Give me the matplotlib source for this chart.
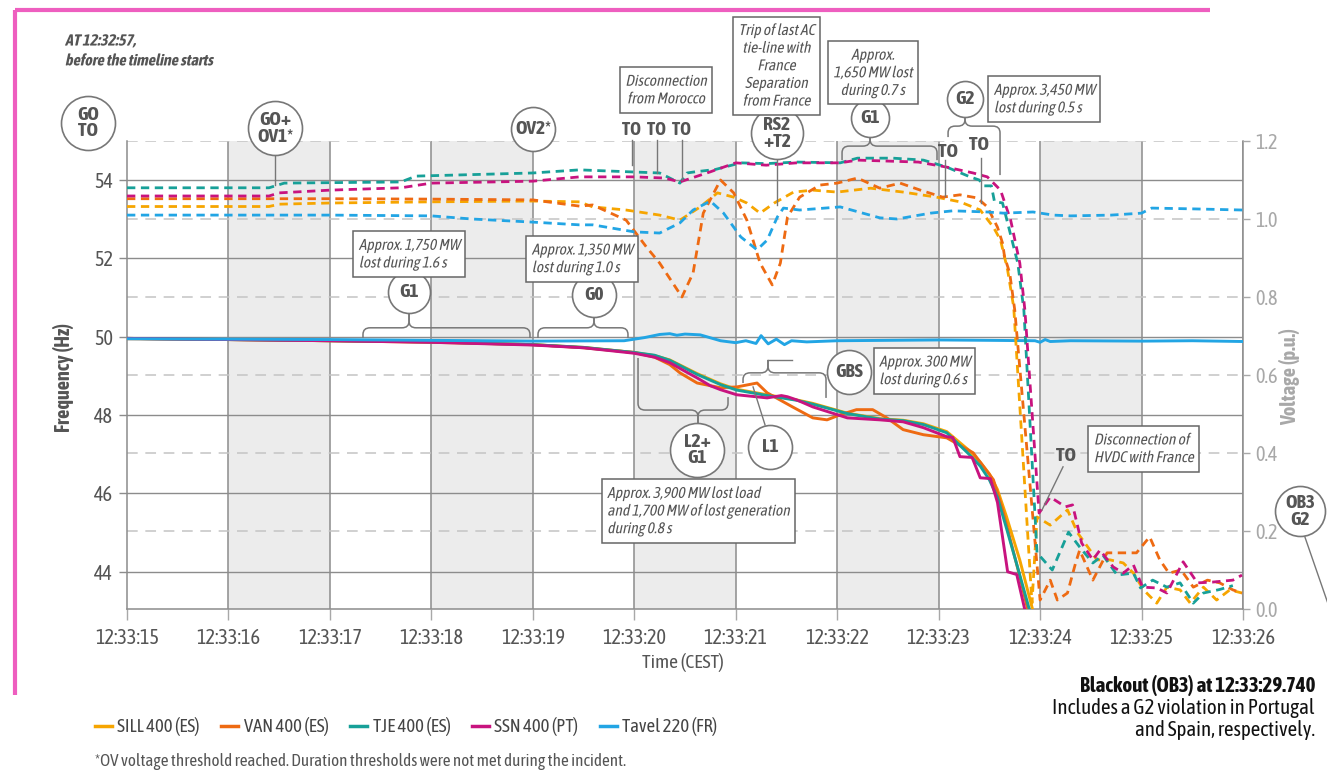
import numpy as np
import matplotlib
matplotlib.use("Agg")
import matplotlib.pyplot as plt
import matplotlib.transforms as mtransforms
import matplotlib.patheffects as pe
from matplotlib import font_manager
from matplotlib.lines import Line2D
from matplotlib.path import Path
from matplotlib.patches import PathPatch

# prefer a narrow / condensed sans if one is installed, ideally one with a bold face
_entries = font_manager.fontManager.ttflist


def _weight(entry):
    w = entry.weight
    if isinstance(w, str):
        w = font_manager.weight_dict.get(w, 400)
    return int(w)


_narrow = sorted({f.name for f in _entries
                  if "narrow" in f.name.lower() or "condensed" in f.name.lower()})
_bold_names = {f.name for f in _entries if _weight(f) >= 600}
_narrow_bold = [n for n in _narrow if n in _bold_names]
if _narrow_bold:
    BASE, FAKE_BOLD = _narrow_bold[0], False
elif _narrow:
    BASE, FAKE_BOLD = _narrow[0], True
else:
    BASE, FAKE_BOLD = "Roboto", False
plt.rcParams["font.family"] = [BASE, "DejaVu Sans"]
K = 1.12 if _narrow else 1.0


class Slant(pe.AbstractPathEffect):
    """Shear glyph outlines around the text origin to give a sloped face."""

    def __init__(self, angle=12, stroke=0.0):
        super().__init__()
        self._angle = np.radians(angle)
        self._stroke = stroke

    def draw_path(self, renderer, gc, tpath, affine, rgbFace=None):
        x0, y0 = affine.transform((0, 0))
        shear = (mtransforms.Affine2D().translate(-x0, -y0)
                 .skew(self._angle, 0).translate(x0, y0))
        if self._stroke > 0:
            gc0 = renderer.new_gc()
            gc0.copy_properties(gc)
            gc0.set_linewidth(self._stroke)
            gc0.set_foreground(rgbFace)
            renderer.draw_path(gc0, tpath, affine + shear, rgbFace)
            gc0.restore()
        else:
            renderer.draw_path(gc, tpath, affine + shear, rgbFace)


def heavy(color, stroke=0.9):
    """Keyword arguments that render text in a bold weight."""
    if FAKE_BOLD:
        return dict(color=color,
                    path_effects=[pe.withStroke(linewidth=stroke, foreground=color)])
    return dict(color=color, fontweight="bold")


def sloped(color, bold=False):
    """Keyword arguments that render text sloped."""
    kw = dict(color=color)
    if bold and not FAKE_BOLD:
        kw["fontweight"] = "bold"
    kw["path_effects"] = [Slant(12, 0.7 if (bold and FAKE_BOLD) else 0.0)]
    return kw


# ---------------------------------------------------------------- data
# time axis: seconds after 12:33:15 (CEST)
tick_labels = ["12:33:15", "12:33:16", "12:33:17", "12:33:18", "12:33:19", "12:33:20",
               "12:33:21", "12:33:22", "12:33:23", "12:33:24", "12:33:25", "12:33:26"]
shaded_seconds = [1, 3, 5, 7, 9]
freq_ticks = [44, 46, 48, 50, 52, 54]
volt_ticks = [0.0, 0.2, 0.4, 0.6, 0.8, 1.0, 1.2]

series_names = ["SILL 400 (ES)", "VAN 400 (ES)", "TJE 400 (ES)", "SSN 400 (PT)", "Tavel 220 (FR)"]
series_colors = ["#F6A500", "#EE6A12", "#17A098", "#C8137F", "#22A5E4"]

# frequency (Hz)
sill_ft = [0, 1, 2, 3, 4, 4.5, 5.0, 5.2, 5.35, 5.62, 5.85, 6.01, 6.31, 6.6, 6.76, 7.1, 7.42,
           7.65, 7.85, 8.08, 8.3, 8.41, 8.5, 8.58, 8.67, 8.8, 8.95]
sill_f = [49.96, 49.93, 49.90, 49.87, 49.80, 49.73, 49.60, 49.52, 49.41, 49.06, 48.80, 48.66,
          48.52, 48.39, 48.30, 48.05, 47.91, 47.87, 47.78, 47.58, 47.10, 46.80, 46.50, 46.10,
          45.40, 44.30, 42.80]

van_ft = [0, 1, 2, 3, 4, 4.5, 5.0, 5.2, 5.35, 5.45, 5.62, 5.85, 6.01, 6.21, 6.31, 6.56, 6.76,
          6.9, 7.03, 7.19, 7.35, 7.49, 7.65, 7.85, 8.08, 8.34, 8.54, 8.63, 8.80, 8.90]
van_f = [49.95, 49.93, 49.90, 49.86, 49.80, 49.72, 49.60, 49.48, 49.29, 49.08, 48.82, 48.70,
         48.72, 48.82, 48.57, 48.21, 47.93, 47.88, 48.01, 48.14, 48.14, 47.93, 47.63, 47.50,
         47.42, 47.04, 46.35, 45.59, 43.88, 42.80]

tje_ft = [0, 1, 2, 3, 4, 4.5, 5.0, 5.2, 5.35, 5.62, 5.85, 6.01, 6.31, 6.6, 6.76, 7.1, 7.42,
          7.65, 7.85, 8.08, 8.3, 8.41, 8.5, 8.58, 8.67, 8.78, 8.92]
tje_f = [49.96, 49.93, 49.90, 49.87, 49.80, 49.73, 49.60, 49.53, 49.40, 49.04, 48.78, 48.64,
         48.50, 48.38, 48.28, 48.04, 47.90, 47.86, 47.76, 47.55, 47.00, 46.70, 46.35, 45.90,
         45.10, 44.10, 42.80]

ssn_ft = [0, 1, 2, 3, 4, 4.5, 5.0, 5.2, 5.35, 5.5, 5.62, 5.75, 5.85, 6.01, 6.2, 6.31, 6.45,
          6.51, 6.6, 6.76, 7.1, 7.42, 7.65, 7.85, 8.08, 8.14, 8.21, 8.33, 8.41, 8.51, 8.58,
          8.68, 8.77, 8.87]
ssn_f = [49.96, 49.93, 49.90, 49.86, 49.79, 49.72, 49.58, 49.48, 49.34, 49.12, 48.95, 48.75,
         48.65, 48.52, 48.47, 48.44, 48.50, 48.47, 48.39, 48.21, 47.93, 47.88, 47.83, 47.68,
         47.45, 47.43, 46.94, 46.92, 46.40, 46.38, 45.77, 44.00, 43.93, 42.80]

tavel_ft = [0, 2, 4, 4.9, 5.1, 5.25, 5.35, 5.42, 5.5, 5.65, 5.85, 6.0, 6.1, 6.2, 6.25, 6.32,
            6.4, 6.48, 6.55, 6.7, 7.0, 7.5, 8.0, 8.5, 8.95, 9.0, 9.05, 9.1, 9.3, 10.0, 10.5, 11.0]
tavel_f = [49.95, 49.93, 49.89, 49.90, 49.98, 50.06, 50.08, 50.04, 50.07, 50.05, 49.90, 49.85,
           49.90, 49.83, 50.03, 49.82, 49.94, 49.80, 49.90, 49.87, 49.90, 49.91, 49.92, 49.91,
           49.90, 49.86, 49.93, 49.88, 49.90, 49.89, 49.90, 49.88]

# voltage (p.u.)
sill_vt = [0, 1.4, 1.5, 2.0, 3.0, 4.0, 4.46, 4.59, 4.92, 5.25, 5.45, 5.65, 5.82, 5.98, 6.11,
           6.24, 6.38, 6.57, 6.76, 7.0, 7.33, 7.65, 7.98, 8.21, 8.41, 8.54, 8.61, 8.68, 8.74,
           8.92, 8.97, 9.10, 9.27, 9.37, 9.47, 9.56, 9.69, 9.82, 9.92, 10.02, 10.15, 10.25,
           10.38, 10.48, 10.61, 10.74, 10.87, 10.99]
sill_v = [1.032, 1.032, 1.038, 1.041, 1.044, 1.046, 1.044, 1.031, 1.023, 1.010, 0.997, 1.031,
          1.067, 1.056, 1.041, 1.015, 1.041, 1.069, 1.074, 1.069, 1.079, 1.069, 1.056, 1.044,
          1.023, 0.979, 0.946, 0.869, 0.774, 0.015, 0.236, 0.215, 0.254, 0.195, 0.159, 0.126,
          0.126, 0.118, 0.092, 0.049, 0.015, 0.056, 0.049, 0.015, 0.056, 0.023, 0.049, 0.041]

van_vt = [0, 2, 3, 4.0, 4.46, 4.59, 4.92, 5.12, 5.25, 5.47, 5.58, 5.68, 5.85, 5.98, 6.11,
          6.24, 6.36, 6.44, 6.51, 6.63, 6.83, 7.0, 7.2, 7.42, 7.62, 7.82, 8.04, 8.21, 8.38,
          8.48, 8.58, 8.63, 8.65, 8.70, 8.75, 9.0, 9.10, 9.17, 9.27, 9.35, 9.39, 9.52, 9.66,
          9.85, 9.95, 10.08, 10.18, 10.27, 10.39, 10.51, 10.65, 10.77, 10.90, 10.99]
van_v = [1.052, 1.052, 1.051, 1.049, 1.033, 1.036, 0.997, 0.928, 0.887, 0.800, 0.862, 1.015,
         1.100, 1.067, 0.997, 0.887, 0.831, 0.887, 1.005, 1.056, 1.087, 1.092, 1.105, 1.079,
         1.092, 1.074, 1.056, 1.062, 1.054, 1.031, 0.979, 0.938, 0.903, 0.862, 0.767, 0.023,
         0.074, 0.023, 0.041, 0.118, 0.151, 0.074, 0.144, 0.144, 0.144, 0.185, 0.126, 0.092,
         0.100, 0.056, 0.074, 0.067, 0.049, 0.041]

tje_vt = [0, 1.4, 1.55, 2.7, 2.85, 4.0, 4.46, 4.95, 5.25, 5.45, 5.52, 5.6, 5.8, 6.05, 6.3,
          6.6, 7.03, 7.2, 7.55, 7.85, 8.08, 8.31, 8.40, 8.45, 8.52, 8.55, 8.63, 8.68, 8.78,
          8.84, 8.97, 9.12, 9.28, 9.39, 9.52, 9.62, 9.76, 9.92, 9.99, 10.11, 10.25, 10.38,
          10.51, 10.61, 10.77, 10.90]
tje_v = [1.080, 1.080, 1.092, 1.095, 1.110, 1.118, 1.126, 1.121, 1.118, 1.092, 1.118, 1.121,
         1.127, 1.144, 1.142, 1.146, 1.144, 1.156, 1.156, 1.151, 1.133, 1.108, 1.100, 1.085,
         1.085, 1.045, 1.041, 0.990, 0.887, 0.767, 0.144, 0.100, 0.197, 0.159, 0.118, 0.138,
         0.087, 0.092, 0.054, 0.074, 0.056, 0.067, 0.015, 0.041, 0.050, 0.060]

ssn_vt = [0, 1.4, 1.5, 2.0, 2.7, 3.0, 4.0, 4.46, 5.0, 5.3, 5.45, 5.75, 6.0, 6.3, 6.6, 7.03,
          7.2, 7.8, 8.08, 8.34, 8.48, 8.61, 8.71, 8.80, 8.85, 8.99, 9.10, 9.25, 9.32, 9.41,
          9.52, 9.59, 9.72, 9.82, 9.92, 10.01, 10.15, 10.25, 10.41, 10.55, 10.70, 10.90, 10.99]
ssn_v = [1.059, 1.059, 1.067, 1.074, 1.080, 1.092, 1.097, 1.108, 1.108, 1.105, 1.095, 1.121,
         1.144, 1.138, 1.144, 1.144, 1.151, 1.146, 1.133, 1.118, 1.108, 1.074, 0.997, 0.887,
         0.767, 0.246, 0.287, 0.262, 0.267, 0.169, 0.126, 0.151, 0.108, 0.092, 0.113, 0.056,
         0.054, 0.041, 0.121, 0.067, 0.069, 0.074, 0.087]

tavel_vt = [0, 2, 3, 3.4, 4.0, 4.46, 4.59, 5.0, 5.25, 5.45, 5.58, 5.75, 5.88, 6.05, 6.21,
            6.31, 6.41, 6.47, 6.63, 7.03, 7.42, 7.59, 7.92, 8.14, 8.48, 8.64, 8.93, 9.13,
            9.30, 9.7, 10.0, 10.1, 10.5, 11.0]
tavel_v = [1.010, 1.010, 1.008, 1.000, 0.992, 0.985, 0.985, 0.967, 0.964, 0.990, 1.023, 1.046,
           1.015, 0.954, 0.921, 0.946, 1.005, 1.028, 1.023, 1.031, 1.003, 1.000, 1.015, 1.021,
           1.018, 1.015, 1.018, 1.010, 1.008, 1.010, 1.015, 1.028, 1.026, 1.023]

freq_series = [(sill_ft, sill_f), (van_ft, van_f), (tje_ft, tje_f), (ssn_ft, ssn_f),
               (tavel_ft, tavel_f)]
volt_series = [(sill_vt, sill_v), (van_vt, van_v), (tje_vt, tje_v), (ssn_vt, ssn_v),
               (tavel_vt, tavel_v)]

# text sizes
FS_TICK = 13 * K
FS_CIRC = 12.5 * K
FS_NOTE = 10 * K
FS_LAB = 13 * K

# ---------------------------------------------------------------- figure
W, H = 1327, 772
fig = plt.figure(figsize=(W / 100, H / 100), dpi=100)
ax = fig.add_axes([127 / W, 1 - 609 / H, (1243 - 127) / W, (609 - 141) / H])
ax2 = ax.twinx()
ax.set_xlim(0, 11)
ax.set_ylim(43.05, 55.0)
ax2.set_ylim(0, 1.2)
ax2.patch.set_visible(False)

DARK = "#555555"
GRID = "#8c8c8c"
LIGHT = "#a8a8a8"

# shaded seconds
for s in shaded_seconds:
    ax.axvspan(s, s + 1, color="#ececec", lw=0, zorder=0)
# vertical second lines
for s in range(1, 12):
    ax.axvline(s, color=GRID, lw=1.1, zorder=1)
# solid frequency grid
for f in freq_ticks:
    ax.axhline(f, color=GRID, lw=1.0, zorder=1)
# dashed voltage grid
vtrans = mtransforms.blended_transform_factory(ax.transAxes, ax2.transData)
for v in volt_ticks[1:]:
    ax.add_line(Line2D([0, 1], [v, v], transform=vtrans, color="#c4c4c4", lw=1.1,
                       dashes=(7, 5), zorder=1))

# frequency traces
for (tt, ff), c in zip(freq_series, series_colors):
    ax.plot(tt, ff, color=c, lw=2.1, zorder=3, solid_joinstyle="round")
# voltage traces
for (tt, vv), c in zip(volt_series, series_colors):
    ax2.plot(tt, vv, color=c, lw=2.0, dashes=(3, 2), zorder=3)

# axes cosmetics
ax.spines["top"].set_visible(False)
for sp in ["left", "bottom", "right"]:
    ax.spines[sp].set_color(GRID)
    ax.spines[sp].set_linewidth(1.1)
for sp in ax2.spines.values():
    sp.set_visible(False)

ax.set_xticks(range(12))
ax.set_xticklabels(tick_labels)
ax.tick_params(axis="x", length=8, width=1, color=LIGHT, pad=6, labelsize=FS_TICK,
               labelcolor=DARK)
ax.set_yticks(freq_ticks)
ax.set_yticklabels([str(f) for f in freq_ticks])
ax.tick_params(axis="y", length=6, width=1, color=GRID, pad=4, labelsize=FS_TICK,
               labelcolor=DARK)
ax2.set_yticks(volt_ticks)
ax2.set_yticklabels([f"{v:.1f}" for v in volt_ticks])
ax2.tick_params(axis="y", length=5, width=1, color=LIGHT, pad=4, labelsize=FS_TICK,
                labelcolor=LIGHT)

fig.text(63 / W, 1 - 377 / H, "Frequency (Hz)", rotation=90, ha="center", va="center",
         fontsize=FS_LAB, **heavy(DARK))
fig.text(1290 / W, 1 - 377 / H, "Voltage (p.u.)", rotation=90, ha="center", va="center",
         fontsize=FS_LAB, **heavy(LIGHT))
fig.text(683 / W, 1 - 662 / H, "Time (CEST)", ha="center", va="center", fontsize=12.5 * K,
         color=DARK)

# ---------------------------------------------------------------- annotations
ANN = "#777777"
T = ax.transData


def circle_label(t, f, text, r_px, fs=FS_CIRC):
    ax2.plot([t], [f], marker="o", ms=2 * r_px * 0.72, mfc="white", mec=ANN, mew=1.2,
             transform=T, clip_on=False, zorder=8)
    ax2.text(t, f, text, transform=T, ha="center", va="center", fontsize=fs,
             linespacing=0.92, zorder=9, clip_on=False, **heavy(DARK, 1.0))


def note_box(t, f, text, align="left", fs=FS_NOTE):
    ax2.text(t, f, text, transform=T, ha="center", va="center", multialignment=align,
             fontsize=fs, linespacing=1.05, zorder=9, clip_on=False,
             bbox=dict(boxstyle="square,pad=0.35", fc="white", ec="#666666", lw=1.1),
             **sloped(DARK))


def link(t0, f0, t1, f1):
    ax2.plot([t0, t1], [f0, f1], color=ANN, lw=1.0, transform=T, clip_on=False, zorder=7)


def bold_text(t, f, text, fs=FS_CIRC):
    ax2.text(t, f, text, transform=T, ha="center", va="center", fontsize=fs,
             zorder=9, clip_on=False, **heavy(DARK, 1.0))


def brace(x1, x2, xm, yb, y1, y2, ytip, rx=0.07, ry=0.17):
    for xe, ye, side in ((x1, y1, 1), (x2, y2, -1)):
        se = np.sign(ye - yb)
        st = np.sign(ytip - yb)
        verts = [(xe, ye), (xe, yb + se * ry), (xe, yb), (xe + side * rx, yb),
                 (xm - side * rx, yb), (xm, yb), (xm, yb + st * ry), (xm, ytip)]
        codes = [Path.MOVETO, Path.LINETO, Path.CURVE3, Path.CURVE3, Path.LINETO,
                 Path.CURVE3, Path.CURVE3, Path.LINETO]
        ax2.add_patch(PathPatch(Path(verts, codes), fc="none", ec=ANN, lw=1.1,
                                transform=T, clip_on=False, zorder=7))


# top row
circle_label(-0.384, 55.46, "GO\nTO", 27)
circle_label(1.459, 55.33, "GO+\nOV1*", 27)
link(1.459, 54.64, 1.459, 53.88)
circle_label(4.002, 55.31, "OV2*", 22)
for tx, fend in ((4.978, 54.39), (5.224, 54.18), (5.471, 54.00)):
    bold_text(tx - 0.01, 55.28, "TO", fs=FS_CIRC * 0.95)
    link(tx, 55.03, tx, fend)
note_box(5.31, 56.30, "Disconnection\nfrom Morocco", align="center")
note_box(6.40, 56.92, "Trip of last AC\ntie-line with\nFrance\nSeparation\nfrom France",
         align="center")
circle_label(6.407, 55.20, "RS2\n+T2", 26)
link(6.407, 54.54, 6.407, 53.37)
note_box(7.35, 56.74, "Approx.\n1,650 MW lost\nduring 0.7 s", align="center")
circle_label(7.324, 55.59, "G1", 19)
brace(7.048, 7.984, 7.324, 54.87, 54.51, 54.51, 55.10)
circle_label(8.26, 56.07, "G2", 18)
note_box(9.04, 56.07, "Approx. 3,450 MW\nlost during 0.5 s")
brace(8.093, 8.605, 8.26, 55.38, 55.10, 54.13, 55.59)
bold_text(8.09, 54.72, "TO")
link(8.063, 54.51, 8.063, 53.60)
bold_text(8.40, 54.90, "TO")
link(8.418, 54.57, 8.418, 53.42)

# middle row
note_box(2.78, 52.11, "Approx. 1,750 MW\nlost during 1.6 s")
circle_label(2.78, 51.14, "G1", 21)
brace(2.326, 3.972, 2.780, 50.23, 49.97, 49.97, 50.61)
note_box(4.485, 51.99, "Approx. 1,350 MW\nlost during 1.0 s")
circle_label(4.60, 51.07, "G0", 22)
brace(4.051, 4.938, 4.603, 50.23, 49.97, 49.97, 50.55)

brace(5.037, 5.924, 5.628, 48.13, 49.46, 48.46, 47.80)
circle_label(5.62, 47.11, "L2+\nG1", 27)
circle_label(6.34, 47.19, "L1", 22)
link(6.289, 47.75, 6.171, 48.72)
brace(6.072, 6.890, 6.318, 49.08, 48.82, 48.44, 49.41)
link(6.318, 49.41, 6.55, 49.41)
circle_label(7.12, 49.10, "GBS", 22)
note_box(7.86, 49.13, "Approx. 300 MW\nlost during 0.6 s")
note_box(5.63, 45.55, "Approx. 3,900 MW lost load\nand 1,700 MW of lost generation\n"
         "during 0.8 s")

bold_text(9.26, 46.96, "TO")
link(9.226, 46.68, 9.019, 45.58)
note_box(10.02, 47.14, "Disconnection of\nHVDC with France")
circle_label(11.56, 45.55, "OB3\nG2", 25)
link(11.61, 44.89, 11.86, 43.02)

# ---------------------------------------------------------------- surrounding text
fig.text(65 / W, 1 - 50.5 / H, "AT 12:32:57,\nbefore the timeline starts", ha="left",
         va="center", fontsize=10.3 * K, linespacing=1.3, **sloped(DARK, bold=True))

fig.text(1315 / W, 1 - 686 / H, "Blackout (OB3) at 12:33:29.740", ha="right", va="center",
         fontsize=13.5 * K, **heavy("#111111", 0.9))
fig.text(1315 / W, 1 - 708 / H, "Includes a G2 violation in Portugal", ha="right",
         va="center", fontsize=13.5 * K, color="#111111")
fig.text(1315 / W, 1 - 730 / H, "and Spain, respectively.", ha="right", va="center",
         fontsize=13.5 * K, color="#111111")

handles = [Line2D([], [], color=c, lw=2.5) for c in series_colors]
leg = fig.legend(handles, series_names, loc="center left",
                 bbox_to_anchor=(95 / W, 1 - 727 / H), ncol=5, frameon=False,
                 fontsize=12.0 * K, handlelength=0.9, handletextpad=0.3, columnspacing=1.15,
                 borderaxespad=0, borderpad=0)
for txt in leg.get_texts():
    txt.set_color("#444444")

fig.text(95 / W, 1 - 762 / H,
         "*OV voltage threshold reached. Duration thresholds were not met during the incident.",
         ha="left", va="center", fontsize=11.0 * K, color=DARK)

# pink frame
PINK = "#EE5EBF"
fig.add_artist(Line2D([15 / W, 15 / W], [1 - 10 / H, 1 - 695 / H], color=PINK, lw=3,
                      solid_capstyle="butt"))
fig.add_artist(Line2D([15 / W, 1210 / W], [1 - 10 / H, 1 - 10 / H], color=PINK, lw=3,
                      solid_capstyle="butt"))

fig.savefig("out.png", dpi=100)
